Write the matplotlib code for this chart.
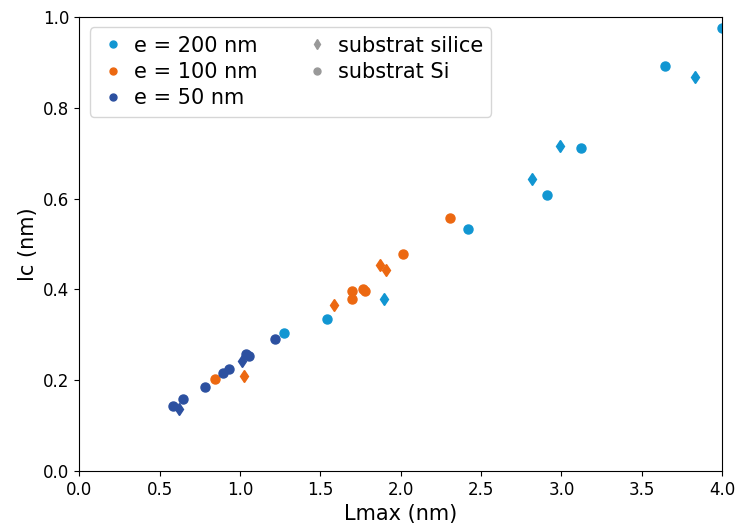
import numpy as np
import matplotlib.pyplot as plt
from matplotlib.lines import Line2D

# e = 200 nm
x200_si = [1.271, 1.54, 2.42, 2.91, 3.12, 3.645, 4.0]
y200_si = [0.305, 0.334, 0.533, 0.608, 0.711, 0.892, 0.976]
x200_sio2 = [1.897, 2.818, 2.99, 3.83]
y200_sio2 = [0.380, 0.643, 0.716, 0.868]

# e = 100 nm
x100_si = [0.846, 1.698, 1.698, 1.767, 1.777, 2.016, 2.308]
y100_si = [0.202, 0.396, 0.380, 0.402, 0.397, 0.478, 0.557]
x100_sio2 = [1.028, 1.586, 1.873, 1.91]
y100_sio2 = [0.209, 0.366, 0.453, 0.444]

# e = 50 nm
x50_si = [0.583, 0.645, 0.784, 0.894, 0.929, 1.039, 1.056, 1.215]
y50_si = [0.143, 0.158, 0.186, 0.217, 0.226, 0.259, 0.253, 0.292]
x50_sio2 = [0.624, 1.012]
y50_sio2 = [0.136, 0.243]

c200 = '#1196d2'
c100 = '#ec6811'
c50 = '#2c50a0'

fig = plt.figure(figsize=(7.4, 5.3), dpi=100)
ax = fig.add_axes([0.107, 0.111, 0.869, 0.857])

ms = 6.5
ax.plot(x200_si, y200_si, 'o', color=c200, ms=ms)
ax.plot(x200_sio2, y200_sio2, 'd', color=c200, ms=ms)
ax.plot(x100_si, y100_si, 'o', color=c100, ms=ms)
ax.plot(x100_sio2, y100_sio2, 'd', color=c100, ms=ms)
ax.plot(x50_si, y50_si, 'o', color=c50, ms=ms)
ax.plot(x50_sio2, y50_sio2, 'd', color=c50, ms=ms)

ax.set_xlim(0, 4)
ax.set_ylim(0, 1)
ax.tick_params(labelsize=12)
ax.set_xlabel('Lmax (nm)', fontsize=15)
ax.set_ylabel('lc (nm)', fontsize=15)

handles = [
    Line2D([], [], ls='', marker='o', ms=5, color=c200),
    Line2D([], [], ls='', marker='o', ms=5, color=c100),
    Line2D([], [], ls='', marker='o', ms=5, color=c50),
    Line2D([], [], ls='', marker='d', ms=5, color='#999999'),
    Line2D([], [], ls='', marker='o', ms=5, color='#999999'),
]
labels = ['e = 200 nm', 'e = 100 nm', 'e = 50 nm', 'substrat silice', 'substrat Si']
ax.legend(handles, labels, ncol=2, loc='upper left', fontsize=15,
          handlelength=1.45, handletextpad=0.27, labelspacing=0.3,
          columnspacing=2.15)

fig.savefig('out.png')
